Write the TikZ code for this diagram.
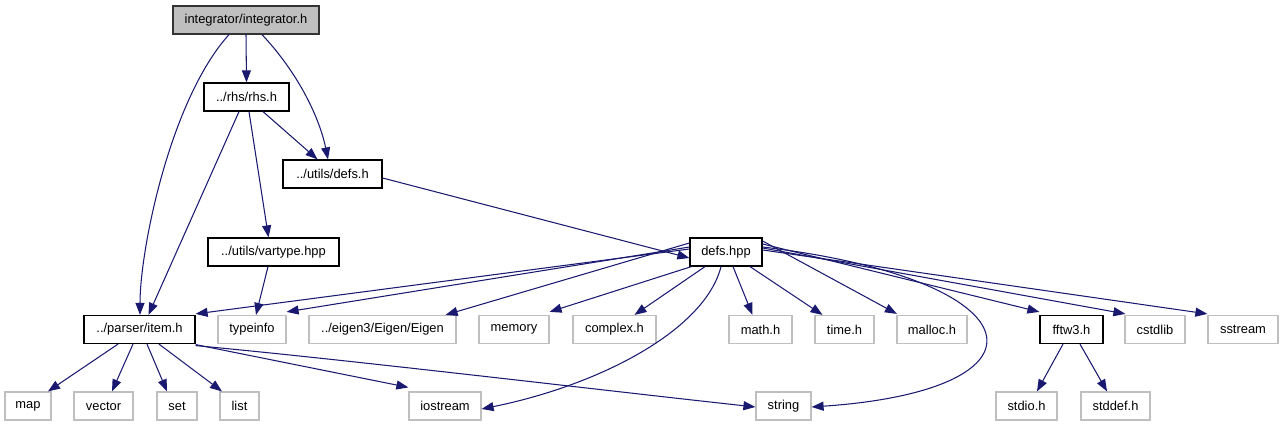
\documentclass[tikz,border=0pt]{standalone}
\usepackage{fontspec}
\setmainfont{Liberation Sans}
\usetikzlibrary{arrows.meta}
\definecolor{edge}{HTML}{191970}
\definecolor{leafborder}{HTML}{BFBFBF}
\definecolor{rootfill}{HTML}{BFBFBF}
\begin{document}
\begin{tikzpicture}[x=1pt,y=-1pt,
  every node/.style={font=\fontsize{12.9}{14}\selectfont, inner sep=0pt, minimum height=28pt, anchor=center},
  filebox/.style={draw=black, line width=1.2pt},
  leafbox/.style={draw=leafborder, line width=1.2pt},
  rootbox/.style={draw=black!80, fill=rootfill, line width=1.2pt},
  dep/.style={draw=edge, line width=1.05pt, -{Triangle[length=12pt,width=9pt]}}
]
\useasboundingbox (0,0) rectangle (1285,427);
% nodes
\node[rootbox, minimum width=146pt] (integ) at (246,20) {integrator/integrator.h};
\node[filebox, minimum width=85pt] (rhs) at (246.5,97) {../rhs/rhs.h};
\node[filebox, minimum width=99pt] (udefs) at (332.5,174) {../utils/defs.h};
\node[filebox, minimum width=131pt] (vartype) at (273.5,252) {../utils/vartype.hpp};
\node[filebox, minimum width=72pt] (defshpp) at (726,252) {defs.hpp};
\node[filebox, minimum width=111pt] (item) at (139.5,329.5) {../parser/item.h};
\node[leafbox, minimum width=68pt] (typeinfo) at (252,329.5) {typeinfo};
\node[leafbox, minimum width=147pt] (eigen) at (382.5,329.5) {../eigen3/Eigen/Eigen};
\node[leafbox, minimum width=70pt] (memory) at (514,329.5) {memory};
\node[leafbox, minimum width=83pt] (complex) at (614.5,329.5) {complex.h};
\node[leafbox, minimum width=63pt] (math) at (760.5,329.5) {math.h};
\node[leafbox, minimum width=59pt] (time) at (844.5,329.5) {time.h};
\node[leafbox, minimum width=70pt] (malloc) at (932,329.5) {malloc.h};
\node[filebox, minimum width=63pt] (fftw) at (1071.5,329.5) {fftw3.h};
\node[leafbox, minimum width=60pt] (cstdlib) at (1155,329.5) {cstdlib};
\node[leafbox, minimum width=70pt] (sstream) at (1243,329.5) {sstream};
\node[leafbox, minimum width=46pt] (map) at (28,406) {map};
\node[leafbox, minimum width=59pt] (vector) at (103.5,406) {vector};
\node[leafbox, minimum width=40pt] (set) at (177,406) {set};
\node[leafbox, minimum width=39pt] (list) at (239.5,406) {list};
\node[leafbox, minimum width=72pt] (iostream) at (445,406) {iostream};
\node[leafbox, minimum width=55pt] (string) at (783.5,406) {string};
\node[leafbox, minimum width=61pt] (stdio) at (1026.5,406) {stdio.h};
\node[leafbox, minimum width=69pt] (stddef) at (1115.5,406) {stddef.h};
% edges from integrator.h
\draw[dep] (integ.south) -- (rhs.north);
\draw[dep] ([xshift=-17pt]integ.south) .. controls (170,100) and (140,250) .. ([xshift=0.5pt]item.north);
\draw[dep] ([xshift=16pt]integ.south) .. controls (300,75) and (320,120) .. ([xshift=-4.5pt]udefs.north);
% edges from rhs.h
\draw[dep] ([xshift=-7.5pt]rhs.south) -- ([xshift=9pt]item.north);
\draw[dep] ([xshift=16.5pt]rhs.south) -- ([xshift=-15pt]udefs.north);
\draw[dep] ([xshift=2.5pt]rhs.south) -- ([xshift=-5pt]vartype.north);
% utils/defs.h
\draw[dep] ([yshift=-4pt]udefs.east) -- ([yshift=-6pt]defshpp.west);
% vartype
\draw[dep] ([xshift=-5.5pt]vartype.south) -- ([xshift=4pt]typeinfo.north);
% defs.hpp
\draw[dep] ([yshift=3pt]defshpp.west) -- ([yshift=1pt]item.north east);
\draw[dep] ([yshift=5pt]defshpp.west) -- ([yshift=3pt]typeinfo.north east);
\draw[dep] ([yshift=9pt]defshpp.west) -- ([xshift=-11pt]eigen.north east);
\draw[dep] ([xshift=2pt]defshpp.south west) -- ([yshift=3pt]memory.north east);
\draw[dep] ([xshift=-21pt]defshpp.south) -- ([xshift=20pt]complex.north);
\draw[dep] ([xshift=-5pt]defshpp.south) .. controls (705,330) and (600,385) .. ([yshift=-3pt]iostream.east);
\draw[dep] ([xshift=7pt]defshpp.south) -- ([xshift=-8pt]math.north);
\draw[dep] ([xshift=24pt]defshpp.south) -- ([xshift=-22pt]time.north);
\draw[dep] ([yshift=11pt]defshpp.east) -- ([xshift=0.5pt,yshift=1pt]malloc.north west);
\draw[dep] ([yshift=5pt]defshpp.east) .. controls (1040,280) and (1060,390) .. ([yshift=-1pt]string.east);
\draw[dep] ([yshift=8pt]defshpp.east) -- ([yshift=3pt]fftw.north west);
\draw[dep] ([yshift=4pt]defshpp.east) -- ([xshift=1pt,yshift=1pt]cstdlib.north west);
\draw[dep] ([yshift=2pt]defshpp.east) -- ([xshift=0pt,yshift=1pt]sstream.north west);
% item.h
\draw[dep] ([xshift=-21.5pt]item.south) -- ([xshift=20pt]map.north);
\draw[dep] ([xshift=-6.5pt]item.south) -- ([xshift=8.5pt]vector.north);
\draw[dep] ([xshift=7.5pt]item.south) -- ([xshift=-10pt]set.north);
\draw[dep] ([xshift=19.5pt]item.south) -- ([xshift=-17.5pt]list.north);
\draw[dep] ([yshift=-0.5pt]item.south east) -- ([yshift=4pt]iostream.north west);
\draw[dep] ([yshift=-1.5pt]item.south east) .. controls (350,360) and (600,390) .. ([yshift=-1pt]string.west);
% fftw3.h
\draw[dep] ([xshift=-8.5pt]fftw.south) -- ([xshift=10.5pt]stdio.north);
\draw[dep] ([xshift=8.5pt]fftw.south) -- ([xshift=-8.5pt]stddef.north);
\end{tikzpicture}
\end{document}
